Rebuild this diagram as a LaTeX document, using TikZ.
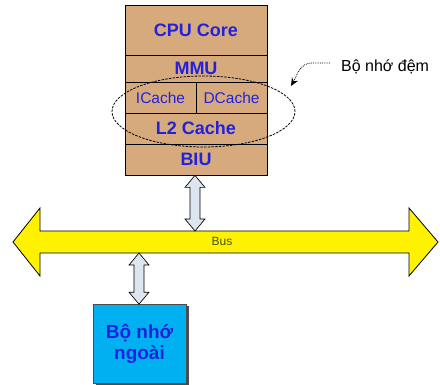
\documentclass[tikz,border=0pt]{standalone}
\usepackage{fontspec}
\setmainfont{Liberation Sans}
\usetikzlibrary{calc,arrows.meta,shapes.geometric}
\definecolor{tanfill}{RGB}{215,170,125}
\definecolor{txtblue}{RGB}{34,34,221}
\definecolor{memblue}{RGB}{0,176,240}
\definecolor{connfill}{RGB}{221,229,240}
\definecolor{bustxt}{RGB}{80,80,0}
\newcommand\vdarrow[2]{%
  \draw[connstyle] (#1) -- ++(10,12) -- ++(-5,0) -- ($(#2)+(5,-12)$) -- ++(5,0) -- (#2)
    -- ++(-10,-12) -- ++(5,0) -- ($(#1)+(-5,12)$) -- ++(-5,0) -- cycle;}
\begin{document}
\begin{tikzpicture}[x=1pt,y=-1pt,
  rowbox/.style={draw=black, line width=0.8pt, fill=tanfill, minimum width=142pt, inner sep=0pt,
    text=txtblue, font=\fontsize{18}{20}\selectfont\bfseries},
  halfbox/.style={rowbox, minimum width=71pt, font=\fontsize{15.5}{17}\selectfont},
  connstyle/.style={draw=black, line width=0.7pt, fill=connfill, line join=miter},
]
\useasboundingbox (0,0) rectangle (440,385);

% CPU stack
\node[rowbox, minimum height=50pt] (core) at (196,30) {CPU Core};
\node[rowbox, minimum height=27pt] (mmu) at (196,68.5) {MMU};
\node[halfbox, minimum height=31pt] (ic) at (160.5,97.5) {ICache};
\node[halfbox, minimum height=31pt] (dc) at (231.5,97.5) {DCache};
\node[rowbox, minimum height=31pt] (l2) at (196,128.5) {L2 Cache};
\node[rowbox, minimum height=31pt] (biu) at (196,159.5) {BIU};

% Bus
\draw[fill=yellow, line width=0.8pt, line join=miter]
  (13,242) -- (40,208) -- (40,231) -- (409,231) -- (409,208) -- (438,242)
  -- (409,276) -- (409,253) -- (40,253) -- (40,276) -- cycle;
\node[text=bustxt, font=\fontsize{12}{14}\selectfont, inner sep=0pt] (bus) at (222,241) {Bus};

% External memory
\fill[black!70] (95.5,306.5) rectangle (188.5,385);
\node[draw=black!70, line width=0.6pt, fill=memblue, minimum width=93pt, minimum height=79pt,
  inner sep=0pt, align=center, text=txtblue, font=\fontsize{19}{21}\selectfont\bfseries]
  (mem) at (139.5,344) {Bộ nhớ\\ngoài};

% connectors
\coordinate (c1a) at ($(biu.south)+(-1,0)$);
\coordinate (c1b) at (195,231);
\vdarrow{c1a}{c1b}
\coordinate (c2a) at (139,253);
\coordinate (c2b) at (mem.north -| c2a);
\vdarrow{c2a}{c2b}

% cache group ellipse
\node[ellipse, draw=black, dashed, dash pattern=on 2.5pt off 1.2pt, line width=0.8pt,
  minimum width=183pt, minimum height=71pt, inner sep=0pt] (grp) at (203.5,111.5) {};

% label
\node[anchor=base west, font=\fontsize{16}{18}\selectfont, inner sep=0pt] (lbl) at (341,72) {Bộ nhớ đệm};
\coordinate (ls) at (330,63);
\coordinate (lt) at (291,86);
\draw[densely dotted, line width=0.8pt, -{Stealth[length=8pt,width=7pt]}]
  (ls) -- (312,63) to[out=180,in=60] (lt);
\end{tikzpicture}
\end{document}
